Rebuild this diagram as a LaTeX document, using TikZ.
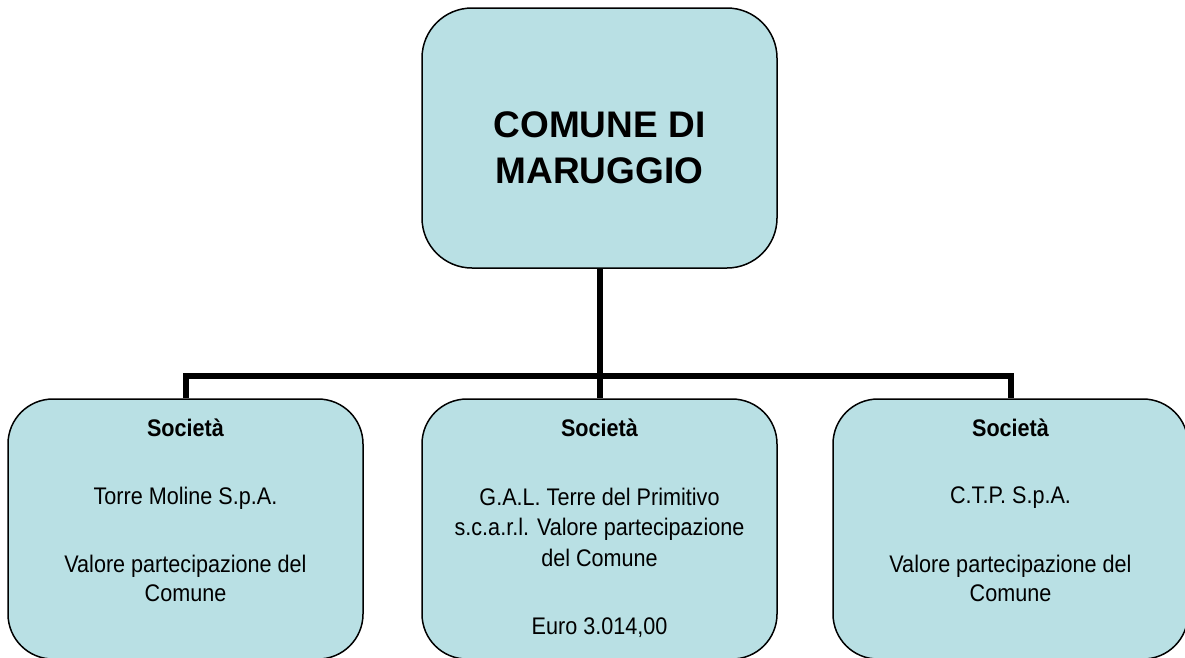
\documentclass[tikz,border=0pt]{standalone}
\usepackage{fontspec}
\setmainfont{Liberation Sans}
\newfontfamily\boxfont[FakeStretch=0.9]{Liberation Sans}
\definecolor{boxfill}{RGB}{185,224,228}
\tikzset{
  orgbox/.style={draw=black, line width=1.5pt, fill=boxfill, inner sep=0pt},
  topbox/.style={orgbox, minimum width=355pt, minimum height=260pt, rounded corners=50pt},
  subbox/.style={orgbox, minimum width=355pt, minimum height=260pt, rounded corners=45pt},
  conn/.style={draw=black, line width=6pt},
  toptext/.style={anchor=base, inner sep=0pt, font=\fontsize{37}{44}\selectfont\bfseries},
  headtext/.style={anchor=base, inner sep=0pt, font=\boxfont\fontsize{24}{28}\selectfont\bfseries},
  bodytext/.style={anchor=base, inner sep=0pt, font=\boxfont\fontsize{24}{28}\selectfont},
}
\begin{document}
\begin{tikzpicture}[x=1pt, y=-1pt]
\useasboundingbox (0,0) rectangle (1185,657);
% boxes
\node[topbox] (top) at (599.5,138) {};
\node[subbox] (left) at (185.5,529) {};
\node[subbox] (mid) at (599.5,529) {};
\node[subbox] (right) at (1010.5,529) {};
% connectors
\coordinate (junction) at (599.5,375.5);
\draw[conn] (top.south) -- (mid.north);
\draw[conn] (left.north) |- (junction) -| (right.north);
% top text
\node[toptext] (t1) at (599.5,137.5) {COMUNE DI};
\node[toptext] (t2) at (599.5,183.5) {MARUGGIO};
% left box text
\node[headtext] (l1) at (185.5,436) {Società};
\node[bodytext] (l2) at (185.5,504.5) {Torre Moline S.p.A.};
\node[bodytext] (l3) at (185.5,572.3) {Valore partecipazione del};
\node[bodytext] (l4) at (185.5,601.7) {Comune};
% middle box text
\node[headtext] (m1) at (599.5,436) {Società};
\node[bodytext] (m2) at (599.5,505) {G.A.L. Terre del Primitivo};
\node[bodytext] (m3) at (599.5,535.5) {s.c.a.r.l. Valore partecipazione};
\node[bodytext] (m4) at (599.5,566) {del Comune};
\node[bodytext] (m5) at (599.5,634) {Euro 3.014,00};
% right box text
\node[headtext] (r1) at (1010.5,436) {Società};
\node[bodytext] (r2) at (1010.5,503.5) {C.T.P. S.p.A.};
\node[bodytext] (r3) at (1010.5,572.3) {Valore partecipazione del};
\node[bodytext] (r4) at (1010.5,601.7) {Comune};
\end{tikzpicture}
\end{document}
